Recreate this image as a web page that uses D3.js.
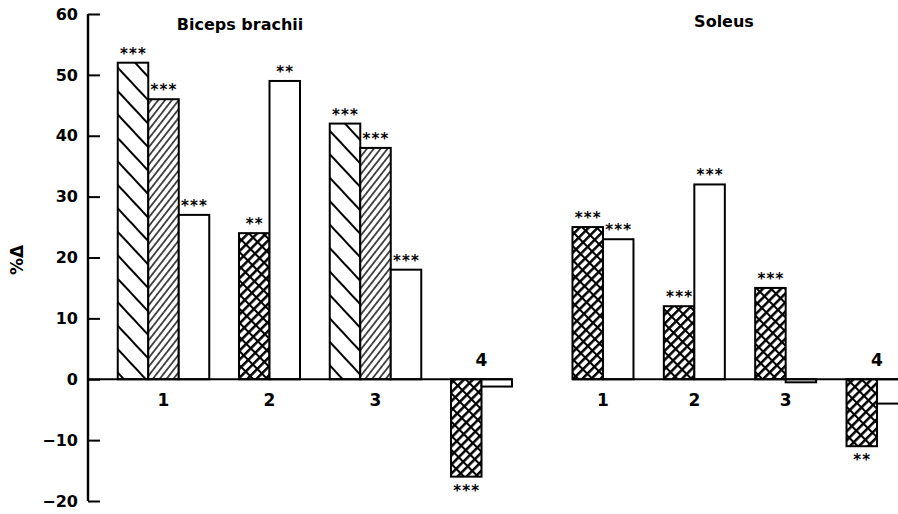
<!DOCTYPE html>
<html>
<head>
<meta charset="utf-8">
<script src="https://cdn.jsdelivr.net/npm/d3@7"></script>
<style>
  body { margin: 0; background: #fff; }
  text { font-family: "DejaVu Sans", sans-serif; font-weight: bold; fill: #000; }
</style>
</head>
<body>
<svg width="898" height="514"></svg>
<script>
var svg = d3.select('svg');
var width = 898;
var height = 514;

// groups along the x axis
var groups = ['1', '2', '3', '4'];
var yTicks = [-20, -10, 0, 10, 20, 30, 40, 50, 60];

// Biceps brachii, % change
var bicepsBack = [52, null, 42, null];     // "\\\" hatch
var bicepsFwd = [46, null, 38, null];      // "///" hatch
var bicepsCross = [null, 24, null, -16];   // cross hatch
var bicepsOpen = [27, 49, 18, -1.2];       // open bar
var bicepsBackStars = ['***', null, '***', null];
var bicepsFwdStars = ['***', null, '***', null];
var bicepsCrossStars = [null, '**', null, '***'];
var bicepsOpenStars = ['***', '**', '***', null];

// Soleus, % change
var soleusCross = [25, 12, 15, -11];
var soleusOpen = [23, 32, -0.5, -4];
var soleusCrossStars = ['***', '***', '***', '**'];
var soleusOpenStars = ['***', '***', null, null];

var axisX = 88;
var barW = 30.5;

var y = d3.scaleLinear().domain([-20, 60]).range([501, 14]);

var xLeft = d3.scaleBand().domain(groups).range([110.5, 534.5]).padding(0);
var xRight = d3.scaleBand().domain(groups).range([557.3, 922.7]).padding(0);

// hatch patterns
var defs = svg.append('defs');

var pBack = defs.append('pattern')
.attr('id', 'back')
.attr('patternUnits', 'userSpaceOnUse')
.attr('width', 40).attr('height', 16)
.attr('patternTransform', 'rotate(47)');
pBack.append('rect').attr('width', 40).attr('height', 16).attr('fill', '#fff');
pBack.append('line').attr('x1', 0).attr('x2', 40).attr('y1', 8).attr('y2', 8)
.attr('stroke', '#000').attr('stroke-width', 1.8);

var pFwd = defs.append('pattern')
.attr('id', 'fwd')
.attr('patternUnits', 'userSpaceOnUse')
.attr('width', 40).attr('height', 5.4)
.attr('patternTransform', 'rotate(-52)');
pFwd.append('rect').attr('width', 40).attr('height', 5.4).attr('fill', '#fff');
pFwd.append('line').attr('x1', 0).attr('x2', 40).attr('y1', 2.7).attr('y2', 2.7)
.attr('stroke', '#000').attr('stroke-width', 1.4);

var pCross = defs.append('pattern')
.attr('id', 'cross')
.attr('patternUnits', 'userSpaceOnUse')
.attr('width', 10).attr('height', 6.4)
.attr('patternTransform', 'rotate(-45)');
pCross.append('rect').attr('width', 10).attr('height', 6.4).attr('fill', '#fff');
pCross.append('line').attr('x1', 0).attr('x2', 10).attr('y1', 0).attr('y2', 0)
.attr('stroke', '#000').attr('stroke-width', 5);
pCross.append('line').attr('x1', 0).attr('x2', 0).attr('y1', 0).attr('y2', 6.4)
.attr('stroke', '#000').attr('stroke-width', 4);

var fills = {back: 'url(#back)', fwd: 'url(#fwd)', cross: 'url(#cross)', open: '#fff'};

function buildBars(seriesList, xScale) {
	var out = [];
	groups.forEach(function(g, i) {
		var present = seriesList.filter(function(s) { return s.values[i] !== null; });
		var start = xScale(g) + xScale.bandwidth() / 2 - present.length * barW / 2;
		present.forEach(function(s, j) {
			out.push({group: g, kind: s.kind, value: s.values[i], stars: s.stars[i], x: start + j * barW});
		});
	});
	return out;
}

var leftBars = buildBars([
	{kind: 'back', values: bicepsBack, stars: bicepsBackStars},
	{kind: 'fwd', values: bicepsFwd, stars: bicepsFwdStars},
	{kind: 'cross', values: bicepsCross, stars: bicepsCrossStars},
	{kind: 'open', values: bicepsOpen, stars: bicepsOpenStars}
], xLeft);

var rightBars = buildBars([
	{kind: 'cross', values: soleusCross, stars: soleusCrossStars},
	{kind: 'open', values: soleusOpen, stars: soleusOpenStars}
], xRight);

function drawPanel(bars, xScale, zeroFrom, zeroTo, negLabelGroups) {
	var g = svg.append('g');
	g.selectAll('rect.bar')
	.data(bars)
	.enter()
	.append('rect')
	.attr('class', 'bar')
	.attr('x', function(d) { return d.x; })
	.attr('y', function(d) { return y(Math.max(0, d.value)); })
	.attr('width', barW)
	.attr('height', function(d) { return Math.abs(y(d.value) - y(0)); })
	.attr('fill', function(d) { return fills[d.kind]; })
	.attr('stroke', '#000')
	.attr('stroke-width', 2);

	g.append('line')
	.attr('x1', zeroFrom).attr('x2', zeroTo)
	.attr('y1', y(0)).attr('y2', y(0))
	.attr('stroke', '#000').attr('stroke-width', 2.2);

	g.selectAll('text.stars')
	.data(bars.filter(function(d) { return d.stars; }))
	.enter()
	.append('text')
	.attr('class', 'stars')
	.attr('x', function(d) { return d.x + barW / 2 + 0.6; })
	.attr('y', function(d) {
		return d.value >= 0 ? y(d.value) - 4 : y(d.value) + 19;
	})
	.attr('text-anchor', 'middle')
	.attr('font-size', '15px')
	.attr('letter-spacing', '1.2px')
	.text(function(d) { return d.stars; });

	g.selectAll('text.grp')
	.data(groups)
	.enter()
	.append('text')
	.attr('class', 'grp')
	.attr('x', function(d) { return xScale(d) + xScale.bandwidth() / 2; })
	.attr('y', function(d) { return negLabelGroups.indexOf(d) >= 0 ? y(0) - 13 : y(0) + 27; })
	.attr('text-anchor', 'middle')
	.attr('font-size', '17px')
	.text(function(d) { return d; });
}

var leftEnd = d3.max(leftBars, function(d) { return d.x + barW; });
var rightStart = d3.min(rightBars, function(d) { return d.x; });

drawPanel(leftBars, xLeft, axisX, leftEnd, ['4']);
drawPanel(rightBars, xRight, rightStart, width, ['4']);

// y axis, ticks pointing inward
var axis = svg.append('g')
.attr('transform', 'translate(' + axisX + ',0)')
.call(d3.axisRight(y).tickValues(yTicks).tickSize(12).tickFormat(function(d) {
	return d < 0 ? '\u2212' + Math.abs(d) : d;
}));
axis.select('.domain').attr('stroke-width', 2.4).attr('d', 'M0,' + y(-20) + 'V' + y(60));
axis.selectAll('.tick line').attr('stroke-width', 2);
axis.selectAll('.tick text')
.attr('x', -10)
.attr('text-anchor', 'end')
.attr('font-size', '16px')
.attr('font-family', '"DejaVu Sans", sans-serif')
.attr('font-weight', 'bold');

svg.append('text')
.attr('transform', 'translate(23,260) rotate(-90)')
.attr('text-anchor', 'middle')
.attr('font-size', '17px')
.text('%\u0394');

svg.append('text')
.attr('x', 240).attr('y', 30)
.attr('text-anchor', 'middle')
.attr('font-size', '16px')
.text('Biceps brachii');

svg.append('text')
.attr('x', 724).attr('y', 27)
.attr('text-anchor', 'middle')
.attr('font-size', '16px')
.text('Soleus');
</script>
</body>
</html>
